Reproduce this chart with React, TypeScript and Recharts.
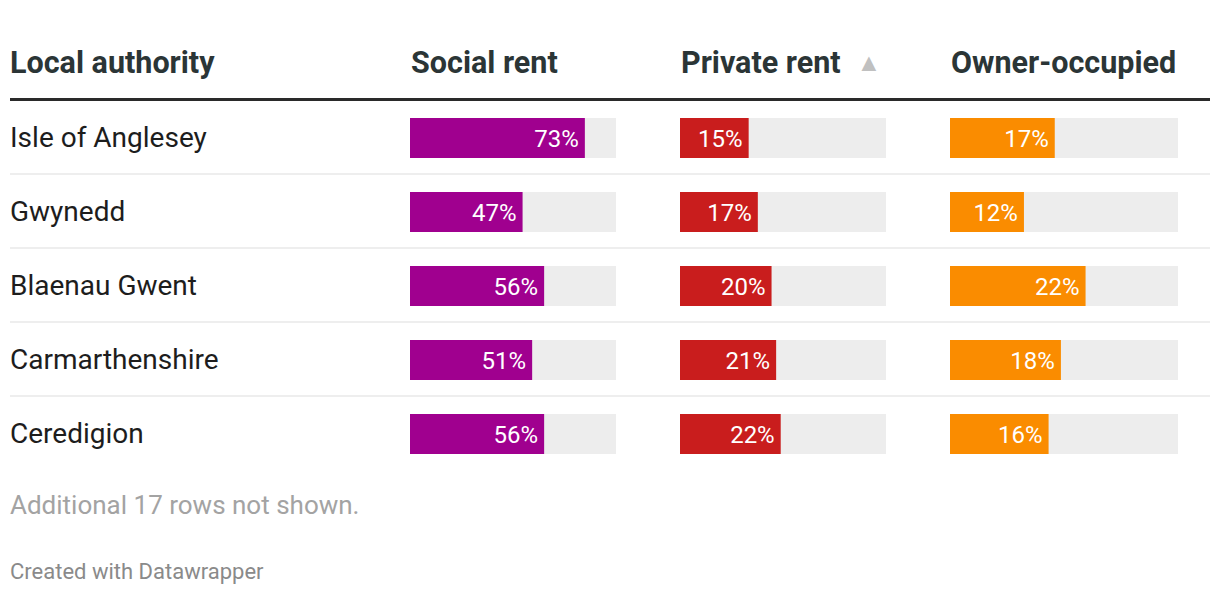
import React from 'react';
import { BarChart, Bar, XAxis, YAxis, LabelList } from 'recharts';

// Table data (five visible rows)
const authorities = ['Isle of Anglesey', 'Gwynedd', 'Blaenau Gwent', 'Carmarthenshire', 'Ceredigion'];
const socialRent = [73, 47, 56, 51, 56];
const privateRent = [15, 17, 20, 21, 22];
const ownerOccupied = [17, 12, 22, 18, 16];
const headers = ['Local authority', 'Social rent', 'Private rent', 'Owner-occupied'];
// bars are scaled to each column's max (includes the hidden rows)
const columnMax = [86, 45, 37];
const footnote = 'Additional 17 rows not shown.';
const credit = 'Created with Datawrapper';

const COLORS = {
  social: '#a0008f',
  private: '#c91d1d',
  owner: '#fa8c00',
  track: '#ededed',
  head: '#2b3536',
  text: '#1d1d1d',
};

const FONT = 'Roboto, "Noto Sans", sans-serif';
const ROW_H = 74;
const BAR_H = 40;

// x position + width of each bar column
const cols = [
  { x: 400, w: 206, color: COLORS.social, values: socialRent },
  { x: 670, w: 206, color: COLORS.private, values: privateRent },
  { x: 940, w: 228, color: COLORS.owner, values: ownerOccupied },
];

function BarCell({ value, max, color, width }: { value: number; max: number; color: string; width: number }) {
  // no barSize here: with barSize recharts still shaves the band, gap 0% gives the full 40px
  return (
    <BarChart
      width={width}
      height={BAR_H}
      data={[{ name: 'v', v: value }]}
      layout="vertical"
      margin={{ top: 0, right: 0, bottom: 0, left: 0 }}
      barCategoryGap="0%"
    >
      <XAxis type="number" domain={[0, max]} hide />
      <YAxis type="category" dataKey="name" hide width={0} />
      <Bar dataKey="v" fill={color} background={{ fill: COLORS.track }} isAnimationActive={false}>
        <LabelList
          dataKey="v"
          position="insideRight"
          offset={6}
          formatter={(v: any) => `${v}%`}
          fill="#fff"
          style={{ fontSize: 24, fontFamily: FONT, fill: '#fff' }}
        />
      </Bar>
    </BarChart>
  );
}

export default function App() {
  return (
    <div style={{ position: 'relative', width: 1204, height: 580, marginLeft: 2, fontFamily: FONT }}>
      {/* header */}
      <div style={{ position: 'absolute', top: 35, left: 0, right: 0, height: 40 }}>
        {headers.map((h, i) => (
          <div
            key={h}
            style={{
              position: 'absolute',
              left: i === 0 ? 0 : cols[i - 1].x + 1,
              top: 0,
              fontSize: 30.5,
              fontWeight: 700,
              color: COLORS.head,
              lineHeight: '40px',
              whiteSpace: 'nowrap',
            }}
          >
            {h}
            {i === 2 && (
              <span style={{ color: '#c0c0c0', fontSize: 25, marginLeft: 16, position: 'relative', top: -2 }}>▲</span>
            )}
          </div>
        ))}
      </div>
      <div style={{ position: 'absolute', top: 90, left: 0, width: 1200, height: 3, background: '#2a2a2a' }} />

      {/* rows */}
      {authorities.map((name, r) => {
        const top = 93 + r * ROW_H;
        return (
          <div key={name} style={{ position: 'absolute', top, left: 0, width: 1200, height: ROW_H }}>
            <div
              style={{
                position: 'absolute',
                left: 0,
                top: 0,
                lineHeight: `${ROW_H - 1}px`,
                fontSize: 28,
                color: COLORS.text,
                whiteSpace: 'nowrap',
              }}
            >
              {name}
            </div>
            {cols.map((c, ci) => (
              <div key={ci} style={{ position: 'absolute', left: c.x, top: 17 }}>
                <BarCell value={c.values[r]} max={columnMax[ci]} color={c.color} width={c.w} />
              </div>
            ))}
            {r < authorities.length - 1 && (
              <div style={{ position: 'absolute', left: 0, bottom: 0, width: 1200, height: 2, background: '#eeeeee' }} />
            )}
          </div>
        );
      })}

      <div style={{ position: 'absolute', top: 482, left: 0, fontSize: 26, color: '#a3a3a3', lineHeight: '30px' }}>
        {footnote}
      </div>
      <div style={{ position: 'absolute', top: 551, left: 0, fontSize: 22, color: '#8a8a8a', lineHeight: '26px' }}>
        {credit}
      </div>
    </div>
  );
}
